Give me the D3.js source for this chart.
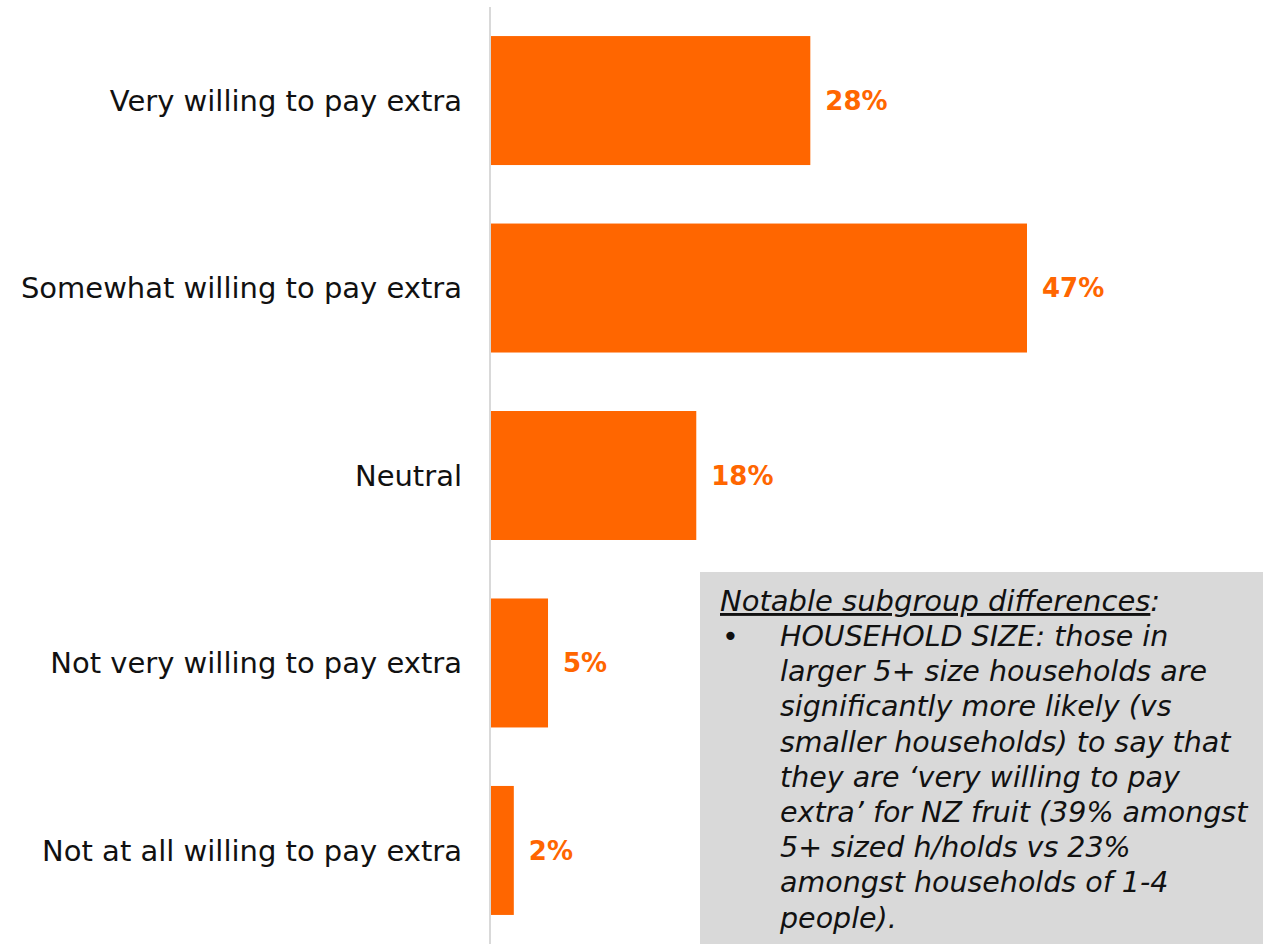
<!DOCTYPE html>
<html>
<head>
<meta charset="utf-8">
<script src="https://cdn.jsdelivr.net/npm/d3@7"></script>
<style>
  html, body { margin: 0; padding: 0; background: #fff; }
  svg { display: block; }
</style>
</head>
<body>
<svg id="chart" width="1263" height="944"></svg>
<script>
// Willingness to pay extra for NZ fruit
const categories = [
  "Very willing to pay extra",
  "Somewhat willing to pay extra",
  "Neutral",
  "Not very willing to pay extra",
  "Not at all willing to pay extra"
];
const values = [28, 47, 18, 5, 2];

const noteTitle = "Notable subgroup differences";
const noteLines = [
  "HOUSEHOLD SIZE: those in",
  "larger 5+ size households are",
  "significantly more likely (vs",
  "smaller households) to say that",
  "they are \u2018very willing to pay",
  "extra\u2019 for NZ fruit (39% amongst",
  "5+ sized h/holds vs 23%",
  "amongst households of 1-4",
  "people)."
];

const orange = "#ff6600";
const font = "'DejaVu Sans', sans-serif";

const svg = d3.select("#chart");

const x = d3.scaleLinear().domain([0, 47]).range([491, 1027]);
const y = d3.scaleBand()
  .domain(categories)
  .range([7, 944])
  .paddingInner(0.312)
  .paddingOuter(0.155);

// baseline axis line
svg.append("line")
  .attr("x1", 490).attr("x2", 490)
  .attr("y1", 7).attr("y2", 944)
  .attr("stroke", "#d9d9d9")
  .attr("stroke-width", 2);

const data = categories.map((c, i) => ({ cat: c, v: values[i] }));

svg.selectAll("rect.bar")
  .data(data)
  .join("rect")
  .attr("class", "bar")
  .attr("x", x(0))
  .attr("y", d => y(d.cat))
  .attr("width", d => x(d.v) - x(0))
  .attr("height", y.bandwidth())
  .attr("fill", orange);

// value labels
svg.selectAll("text.val")
  .data(data)
  .join("text")
  .attr("class", "val")
  .attr("x", d => x(d.v) + 15)
  .attr("y", d => y(d.cat) + y.bandwidth() / 2)
  .attr("dy", "0.36em")
  .attr("font-family", font)
  .attr("font-weight", "bold")
  .attr("font-size", 26)
  .attr("fill", orange)
  .text(d => d.v + "%");

// category labels
svg.selectAll("text.cat")
  .data(data)
  .join("text")
  .attr("class", "cat")
  .attr("x", 462)
  .attr("y", d => y(d.cat) + y.bandwidth() / 2)
  .attr("dy", "0.36em")
  .attr("text-anchor", "end")
  .attr("font-family", font)
  .attr("font-size", 29)
  .attr("fill", "#111")
  .text(d => d.cat);

// note box
const note = svg.append("g");
note.append("rect")
  .attr("x", 700).attr("y", 572)
  .attr("width", 563).attr("height", 372)
  .attr("fill", "#d9d9d9");

const noteSize = 28.5;
const lineH = 35.2;
const titleText = note.append("text")
  .attr("x", 720).attr("y", 611)
  .attr("font-family", font)
  .attr("font-style", "italic")
  .attr("font-size", 29)
  .attr("fill", "#111");
titleText.append("tspan").attr("text-decoration", "underline").text(noteTitle);
titleText.append("tspan").text(":");

note.append("text")
  .attr("x", 722).attr("y", 646)
  .attr("font-family", font)
  .attr("font-size", noteSize)
  .attr("fill", "#111")
  .text("\u2022");

note.selectAll("text.nl")
  .data(noteLines)
  .join("text")
  .attr("class", "nl")
  .attr("x", 780)
  .attr("y", (d, i) => 646 + i * lineH)
  .attr("font-family", font)
  .attr("font-style", "italic")
  .attr("font-size", noteSize)
  .attr("fill", "#111")
  .text(d => d);
</script>
</body>
</html>
